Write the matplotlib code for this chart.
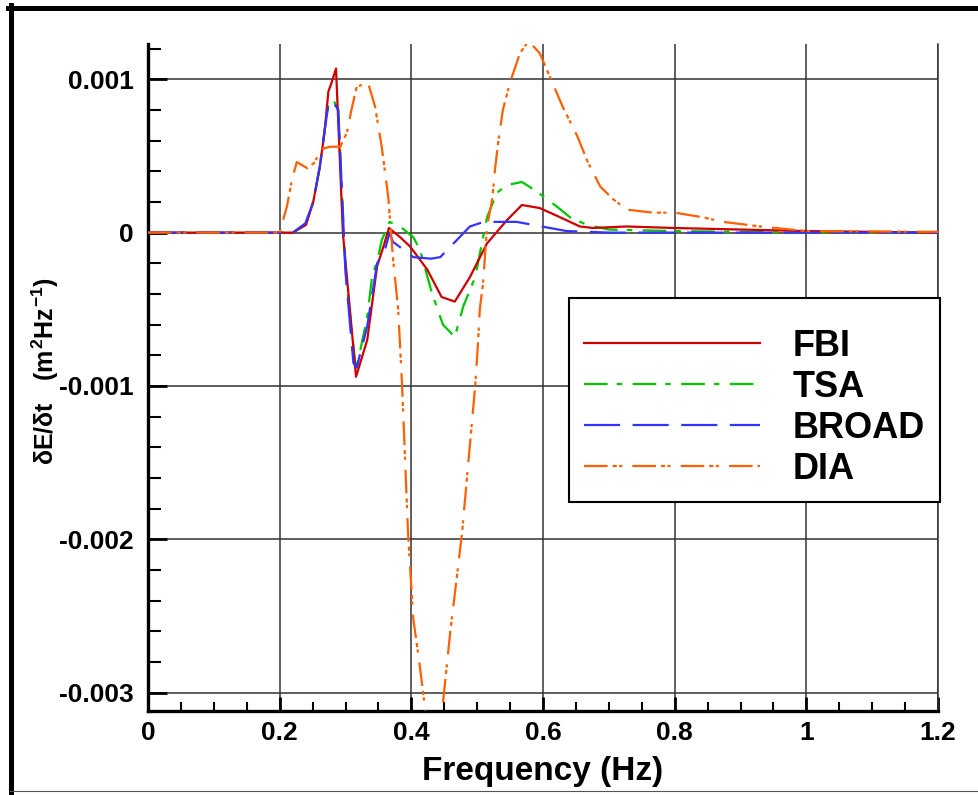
import numpy as np
import matplotlib
matplotlib.use('Agg')
import matplotlib.pyplot as plt
from matplotlib.lines import Line2D
from matplotlib.ticker import MultipleLocator

# values in units of 1e-3 m^2 Hz^-1
fbi_f = [0, 0.2, 0.22, 0.24, 0.251, 0.261, 0.268, 0.274, 0.279, 0.2856, 0.296, 0.316,
         0.333, 0.348, 0.357, 0.366, 0.383, 0.398, 0.424, 0.446, 0.466, 0.489, 0.515,
         0.545, 0.568, 0.595, 0.626, 0.656, 0.676, 0.727, 0.8, 0.9, 1.0, 1.1, 1.2]
fbi_e = [0, 0, 0, 0.05, 0.2, 0.43, 0.65, 0.92, 0.98, 1.07, 0.0, -0.94,
         -0.7, -0.22, -0.1, 0.03, -0.03, -0.09, -0.24, -0.42, -0.45, -0.29, -0.07,
         0.08, 0.18, 0.16, 0.10, 0.04, 0.03, 0.04, 0.03, 0.02, 0.01, 0.005, 0]

tsa_f = [0, 0.2, 0.22, 0.24, 0.251, 0.261, 0.269, 0.274, 0.281, 0.289, 0.295, 0.300,
         0.316, 0.333, 0.340, 0.350, 0.355, 0.367, 0.383, 0.403, 0.413, 0.431, 0.448,
         0.466, 0.479, 0.497, 0.515, 0.530, 0.545, 0.568, 0.590, 0.621, 0.641, 0.667,
         0.70, 0.8, 0.9, 1.0, 1.2]
tsa_e = [0, 0, 0, 0.06, 0.2, 0.43, 0.69, 0.83, 0.87, 0.8, 0.23, -0.26,
         -0.9, -0.55, -0.3, -0.15, -0.05, 0.07, 0.04, -0.03, -0.11, -0.39, -0.6,
         -0.68, -0.48, -0.29, 0.1, 0.26, 0.31, 0.33, 0.27, 0.17, 0.1, 0.05,
         0.02, 0.01, 0.005, 0, 0]

broad_f = [0, 0.22, 0.239, 0.251, 0.261, 0.269, 0.274, 0.28, 0.289, 0.295, 0.3, 0.312,
           0.317, 0.333, 0.348, 0.36, 0.367, 0.372, 0.403, 0.43, 0.444, 0.489, 0.51,
           0.56, 0.585, 0.636, 0.7, 1.2]
broad_e = [0, 0, 0.06, 0.2, 0.43, 0.69, 0.83, 0.86, 0.8, 0.23, -0.26, -0.85,
           -0.88, -0.61, -0.2, -0.11, 0.0, -0.06, -0.16, -0.17, -0.16, 0.04, 0.07,
           0.07, 0.05, 0.01, 0, 0]

dia_f = [0, 0.2, 0.203, 0.211, 0.219, 0.226, 0.242, 0.254, 0.261, 0.276, 0.292, 0.302,
         0.31, 0.317, 0.334, 0.345, 0.355, 0.365, 0.372, 0.38, 0.386, 0.395, 0.403,
         0.413, 0.421, 0.432, 0.447, 0.459, 0.477, 0.497, 0.501, 0.504, 0.509, 0.515,
         0.523, 0.527, 0.532, 0.539, 0.55, 0.565, 0.578, 0.595, 0.61, 0.63, 0.652,
         0.668, 0.687, 0.706, 0.727, 0.767, 0.8, 0.843, 0.873, 0.93, 1.0, 1.2]
dia_e = [0, 0, 0.05, 0.17, 0.35, 0.46, 0.42, 0.46, 0.54, 0.56, 0.56, 0.65,
         0.82, 0.95, 0.98, 0.82, 0.56, 0.23, -0.16, -0.5, -1.0, -1.96, -2.52,
         -2.83, -3.11, -3.4, -3.11, -2.61, -1.96, -1.0, -0.74, -0.5, -0.33, 0.04,
         0.22, 0.41, 0.59, 0.8, 0.98, 1.17, 1.25, 1.17, 1.02, 0.82, 0.63,
         0.46, 0.3, 0.22, 0.15, 0.13, 0.13, 0.1, 0.07, 0.04, 0.01, 0.005]

xticks = [0, 0.2, 0.4, 0.6, 0.8, 1.0, 1.2]
xticklabels = ['0', '0.2', '0.4', '0.6', '0.8', '1', '1.2']
yticks = [0.001, 0, -0.001, -0.002, -0.003]
yticklabels = ['0.001', '0', '-0.001', '-0.002', '-0.003']

plt.rcParams['font.family'] = ['Liberation Sans', 'DejaVu Sans']
plt.rcParams['font.weight'] = 'bold'
plt.rcParams['mathtext.fontset'] = 'custom'
plt.rcParams['mathtext.rm'] = 'Liberation Sans:bold'
plt.rcParams['mathtext.it'] = 'Liberation Sans:bold'
plt.rcParams['mathtext.bf'] = 'Liberation Sans:bold'
plt.rcParams['lines.scale_dashes'] = False

W, H = 979, 795
fig = plt.figure(figsize=(W / 100, H / 100), dpi=100)
ax = fig.add_axes([148 / W, 1 - 711 / H, 790 / W, 667 / H])

lw = 1.6
ax.plot(fbi_f, np.array(fbi_e) * 1e-3, color='#d00000', lw=lw, ls='-', label='FBI', zorder=3)
ax.plot(tsa_f, np.array(tsa_e) * 1e-3, color='#00c800', lw=lw, dashes=(17, 6.5, 4, 7.5),
        label='TSA', zorder=2)
ax.plot(broad_f, np.array(broad_e) * 1e-3, color='#3333ff', lw=lw, dashes=(26, 9),
        label='BROAD', zorder=4)
ax.plot(dia_f, np.array(dia_e) * 1e-3, color='#ff6000', lw=lw,
        dashes=(17, 3.6, 3, 1.7, 2.3, 7.2), label='DIA', zorder=5)

ax.set_xlim(0, 1.2)
ax.set_ylim(-0.00312, 0.00123)
ax.set_xticks(xticks)
ax.set_xticklabels(xticklabels)
ax.set_yticks(yticks)
ax.set_yticklabels(yticklabels)
ax.xaxis.set_minor_locator(MultipleLocator(0.05))
ax.yaxis.set_minor_locator(MultipleLocator(0.0002))
ax.grid(True, which='major', color='#333333', lw=1.1)
ax.set_axisbelow(True)

ax.tick_params(axis='both', which='both', direction='in', top=False, right=False)
ax.tick_params(axis='both', which='major', labelsize=19, colors='black')
ax.tick_params(axis='y', which='major', length=14, width=2, pad=10)
ax.tick_params(axis='y', which='minor', length=9, width=1.5)
ax.tick_params(axis='x', which='major', length=10, width=2, pad=7)
ax.tick_params(axis='x', which='minor', length=6.5, width=1.5)

ax.spines['top'].set_visible(False)
ax.spines['right'].set_color('#333333')
ax.spines['right'].set_linewidth(1.1)
ax.spines['left'].set_linewidth(2.4)
ax.spines['bottom'].set_linewidth(2.4)

ax.set_xlabel('Frequency (Hz)', fontsize=24, fontweight='bold')
ax.xaxis.set_label_coords(0.5, -0.068)
ax.set_ylabel(r'$\delta E/\delta t\ \ \ (m^{2}Hz^{-1})$', fontsize=18)
ax.yaxis.set_label_coords(-0.11, 0.51)

# a tiny blank title pushes the entries down inside the box, as in the original
leg = ax.legend(loc='upper left', bbox_to_anchor=(0.533, 0.619), borderaxespad=0,
                prop={'size': 26, 'weight': 'bold'}, handlelength=4.9,
                handletextpad=0.9, borderpad=0.4, labelspacing=0.17,
                title=' ', title_fontsize=8,
                frameon=True, fancybox=False, edgecolor='black', framealpha=1)
leg.get_frame().set_linewidth(1.5)

# outer frame of the picture
fig.add_artist(Line2D([10.5 / W, 10.5 / W], [0, 1 - 5 / H], transform=fig.transFigure,
                      color='black', lw=3.6))
fig.add_artist(Line2D([8 / W, 1], [1 - 7.5 / H, 1 - 7.5 / H], transform=fig.transFigure,
                      color='black', lw=3.6))
fig.add_artist(Line2D([10 / W, 1], [1 - 791 / H, 1 - 791 / H], transform=fig.transFigure,
                      color='#555555', lw=0.8))

fig.savefig('out.png', dpi=100)
